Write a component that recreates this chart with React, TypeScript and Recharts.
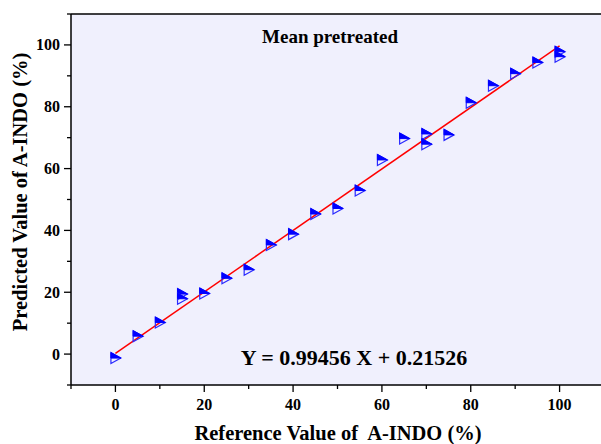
import { ScatterChart, Scatter, XAxis, YAxis, CartesianGrid, ReferenceLine } from "recharts";

// reference vs predicted (%)
const refValues = [0, 5, 10, 15, 15, 20, 25, 30, 35, 40, 45, 50, 55, 60, 65, 70, 70, 75, 80, 85, 90, 95, 100, 100];
const predValues = [-1.3, 5.8, 10.2, 19.4, 17.9, 19.6, 24.5, 27.3, 35.3, 38.8, 45.3, 47.1, 52.9, 62.8, 69.7, 71.2, 67.9, 70.9, 81.3, 86.8, 90.7, 94.3, 97.8, 96.2];

// fitted line endpoints, Y = 0.99456 X + 0.21526
const fitX = [0, 100];
const fitY = [0.22, 99.67];

const axisTicks = [-10, 0, 10, 20, 30, 40, 50, 60, 70, 80, 90, 100, 110];

const points = refValues.map((x, i) => ({ x, y: predValues[i] }));
const fitLine = fitX.map((x, i) => ({ x, y: fitY[i] }));

const serif = '"Liberation Serif", "Times New Roman", serif';

const HalfTriangle = (props: any) => {
    const { cx, cy } = props;
    const l = cx - 4.5;
    const r = cx + 5.5;
    const t = cy - 5.5;
    const b = cy + 5.5;
    return (
        <g>
            <polygon points={`${l},${t} ${r},${cy} ${l},${b}`} fill="none" stroke="#2a2aff" strokeWidth={1.2} />
            <polygon points={`${l},${t} ${r},${cy} ${l},${cy}`} fill="#0000ff" stroke="#0000ff" strokeWidth={1} />
        </g>
    );
};

const XTick = (props: any) => {
    const { x, y, payload } = props;
    const v = payload.value;
    const major = v % 20 === 0 && v >= 0 && v <= 100;
    return (
        <g>
            <line x1={x} y1={y} x2={x} y2={y + (major ? 7 : 4)} stroke="#000" strokeWidth={1.3} />
            {major && (
                <text x={x} y={y + 25} textAnchor="middle" fontFamily={serif} fontWeight="bold" fontSize={16} fill="#000">
                    {v}
                </text>
            )}
        </g>
    );
};

const YTick = (props: any) => {
    const { x, y, payload } = props;
    const v = payload.value;
    const major = v % 20 === 0 && v >= 0 && v <= 100;
    return (
        <g>
            <line x1={x} y1={y} x2={x - (major ? 7 : 4)} y2={y} stroke="#000" strokeWidth={1.3} />
            {major && (
                <text x={x - 11} y={y + 5.5} textAnchor="end" fontFamily={serif} fontWeight="bold" fontSize={16} fill="#000">
                    {v}
                </text>
            )}
        </g>
    );
};

const textBase: any = {
    position: "absolute",
    fontFamily: serif,
    fontWeight: "bold",
    color: "#000",
    whiteSpace: "nowrap",
    lineHeight: 1,
};

export default function App() {
    return (
        <div style={{ position: "absolute", left: 0, top: 0, width: 601, height: 444, overflow: "hidden", background: "#fff" }}>
            <ScatterChart width={640} height={444} margin={{ top: 14, right: 36, left: 0, bottom: 0 }}>
                <CartesianGrid fill="#f0f0fd" horizontal={false} vertical={false} stroke="none" />
                <XAxis
                    type="number"
                    dataKey="x"
                    domain={[-10, 110]}
                    ticks={axisTicks}
                    allowDataOverflow
                    height={59}
                    tickLine={false}
                    tickSize={0}
                    tickMargin={0}
                    tick={<XTick />}
                    interval={0}
                    axisLine={{ stroke: "#000", strokeWidth: 1.5 }}
                />
                <YAxis
                    type="number"
                    dataKey="y"
                    domain={[-10, 110]}
                    ticks={axisTicks}
                    allowDataOverflow
                    width={71}
                    tickLine={false}
                    tickSize={0}
                    tickMargin={0}
                    tick={<YTick />}
                    interval={0}
                    axisLine={{ stroke: "#000", strokeWidth: 1.5 }}
                />
                <ReferenceLine y={110} stroke="#000" strokeWidth={1.5} />
                <Scatter
                    data={fitLine}
                    line={{ stroke: "#ff0000", strokeWidth: 1.5 }}
                    shape={() => <g />}
                    isAnimationActive={false}
                />
                <Scatter data={points} shape={<HalfTriangle />} isAnimationActive={false} />
            </ScatterChart>
            <div style={{ ...textBase, left: 330, top: 36, fontSize: 19, transform: "translate(-50%, -50%)" }}>
                Mean pretreated
            </div>
            <div style={{ ...textBase, left: 354, top: 358, fontSize: 22, transform: "translate(-50%, -50%)" }}>
                Y = 0.99456 X + 0.21526
            </div>
            <div style={{ ...textBase, left: 338, top: 433, fontSize: 20.5, transform: "translate(-50%, -50%)" }}>
                Reference Value of&nbsp; A-INDO (%)
            </div>
            <div style={{ ...textBase, left: 20, top: 192, fontSize: 20.5, transform: "translate(-50%, -50%) rotate(-90deg)" }}>
                Predicted Value of A-INDO (%)
            </div>
        </div>
    );
}
